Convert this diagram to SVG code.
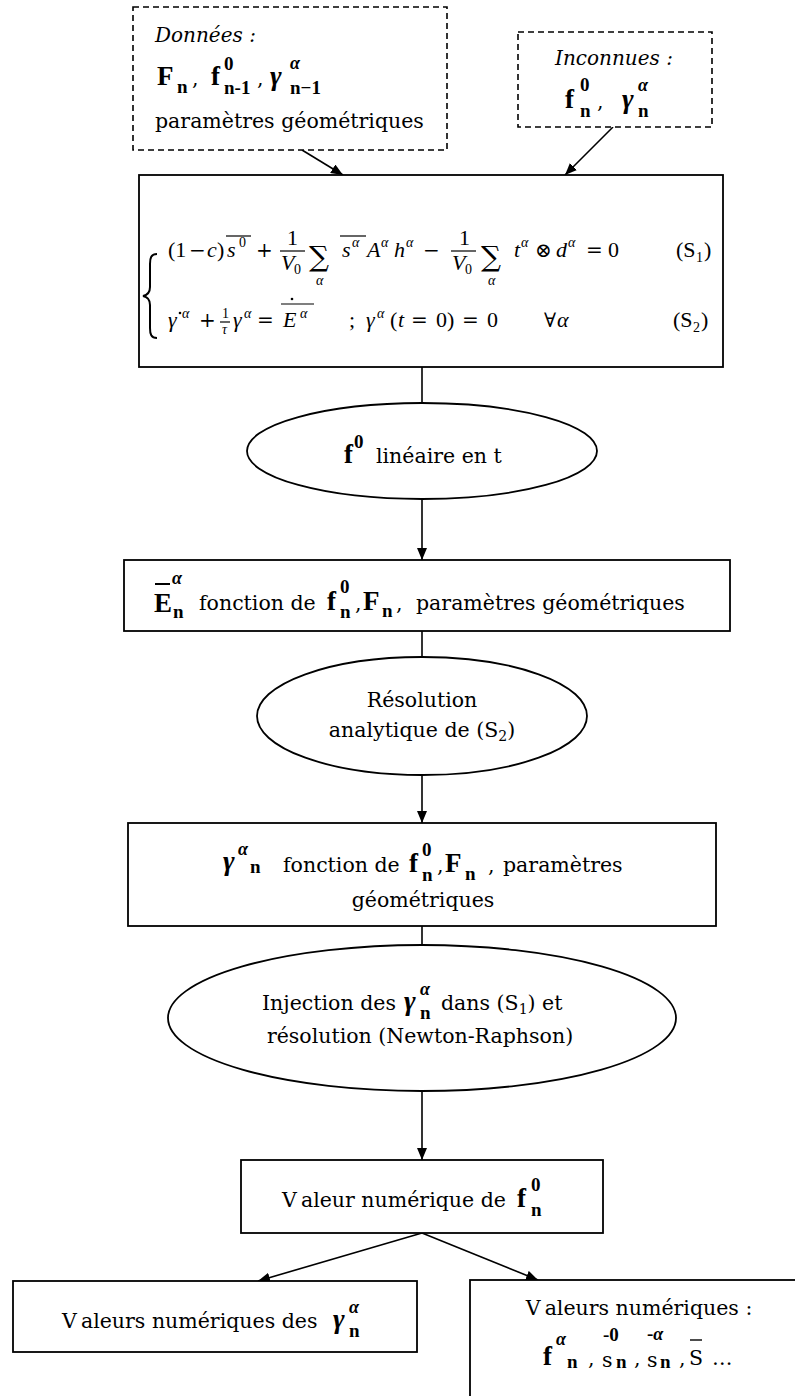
<svg xmlns="http://www.w3.org/2000/svg" width="795" height="1396" viewBox="0 0 795 1396">
<defs>
<style>
.box{fill:#fff;stroke:#000;stroke-width:1.8}
.dash{fill:#fff;stroke:#000;stroke-width:1.6;stroke-dasharray:6 4}
.con{stroke:#000;stroke-width:1.6;fill:none}
.t{font-family:"DejaVu Serif",serif;font-size:20.5px;fill:#000}
.it{font-family:"DejaVu Serif",serif;font-style:italic;font-size:20px;fill:#000}
.b{font-family:"Liberation Serif",serif;font-weight:bold;font-size:27px;fill:#000}
.bs{font-family:"Liberation Serif",serif;font-weight:bold;font-size:19px;fill:#000}
.g{font-family:"Liberation Serif",serif;font-weight:bold;font-style:italic;font-size:28px;fill:#000}
.gs{font-family:"Liberation Serif",serif;font-weight:bold;font-style:italic;font-size:18px;fill:#000}
.m{font-family:"Liberation Serif",serif;font-style:italic;font-size:22px;fill:#000}
.mu{font-family:"Liberation Serif",serif;font-size:22px;fill:#000}
.op{font-family:"DejaVu Serif",serif;font-size:20px;fill:#000}
.ms{font-family:"Liberation Serif",serif;font-style:italic;font-size:14px;fill:#000}
.mus{font-family:"Liberation Serif",serif;font-size:14px;fill:#000}
.sum{font-family:"DejaVu Serif",serif;font-size:28px;fill:#000}
.bar{stroke:#000;stroke-width:1.2}
</style>
<marker id="ah" viewBox="0 0 12 10" refX="12" refY="5" markerWidth="12" markerHeight="10" orient="auto" markerUnits="userSpaceOnUse"><path d="M0,0 L12,5 L0,10 z" fill="#000"/></marker>
</defs>
<rect width="795" height="1396" fill="#fff"/>

<g id="connectors">
<line class="con" x1="302" y1="150" x2="343" y2="175" marker-end="url(#ah)"/>
<line class="con" x1="613" y1="127" x2="565" y2="175" marker-end="url(#ah)"/>
<line class="con" x1="422" y1="367" x2="422" y2="403"/>
<line class="con" x1="422" y1="500" x2="422" y2="560" marker-end="url(#ah)"/>
<line class="con" x1="422" y1="631" x2="422" y2="657"/>
<line class="con" x1="422" y1="775" x2="422" y2="823" marker-end="url(#ah)"/>
<line class="con" x1="422" y1="926" x2="422" y2="945"/>
<line class="con" x1="422" y1="1091" x2="422" y2="1160" marker-end="url(#ah)"/>
<line class="con" x1="422" y1="1233" x2="258" y2="1281" marker-end="url(#ah)"/>
<line class="con" x1="422" y1="1233" x2="538" y2="1280" marker-end="url(#ah)"/>
</g>

<g id="donnees">
<rect class="dash" x="133" y="7" width="314" height="143"/>
<text class="it" x="155" y="42">Données :</text>
<text class="b" x="157" y="85">F</text>
<text class="bs" x="177" y="93">n</text>
<text class="t" x="192" y="85">,</text>
<text class="b" x="211" y="85">f</text>
<text class="bs" x="224" y="70">0</text>
<text class="bs" x="224" y="94">n-1</text>
<text class="t" x="257" y="85">,</text>
<text class="g" x="270" y="85">γ</text>
<text class="gs" x="290" y="69">α</text>
<text class="bs" x="290" y="94">n−1</text>
<text class="t" x="155" y="128">paramètres géométriques</text>
</g>

<g id="inconnues">
<rect class="dash" x="518" y="32" width="194" height="95"/>
<text class="it" x="614" y="65" text-anchor="middle">Inconnues :</text>
<text class="b" x="565" y="108">f</text>
<text class="bs" x="580" y="91">0</text>
<text class="bs" x="580" y="117">n</text>
<text class="t" x="597" y="108">,</text>
<text class="g" x="622" y="108">γ</text>
<text class="gs" x="638" y="91">α</text>
<text class="bs" x="638" y="117">n</text>
</g>

<g id="systeme">
<rect class="box" x="139" y="175" width="584" height="192"/>
<path d="M157 254 C151 254 150 258 150 264 L150 287 C150 292 148 295 143 296 C148 297 150 300 150 305 L150 328 C150 334 151 338 157 338" stroke="#000" stroke-width="2" fill="none"/>
<text class="mu" x="168" y="257">(1</text>
<text class="op" x="189" y="257">−</text>
<text class="m" x="207" y="257">c</text>
<text class="mu" x="217" y="257">)</text>
<text class="m" x="227" y="257">s</text>
<line class="bar" x1="226" y1="236" x2="251" y2="236"/>
<text class="mus" x="239" y="247">0</text>
<text class="op" x="256" y="257">+</text>
<text class="mu" x="287" y="245" font-size="18">1</text>
<line class="bar" x1="280" y1="251" x2="305" y2="251"/>
<text class="m" x="281" y="270" font-size="20">V</text>
<text class="mus" x="294" y="274" font-size="13">0</text>
<text class="sum" x="309" y="266">∑</text>
<text class="ms" x="316" y="285">α</text>
<text class="m" x="342" y="257">s</text>
<line class="bar" x1="340" y1="236" x2="366" y2="236"/>
<text class="ms" x="352" y="247">α</text>
<text class="m" x="367" y="257">A</text>
<text class="ms" x="381" y="247">α</text>
<text class="m" x="394" y="257">h</text>
<text class="ms" x="406" y="247">α</text>
<text class="op" x="423" y="257">−</text>
<text class="mu" x="459" y="245" font-size="18">1</text>
<line class="bar" x1="451" y1="251" x2="476" y2="251"/>
<text class="m" x="452" y="270" font-size="20">V</text>
<text class="mus" x="465" y="274" font-size="13">0</text>
<text class="sum" x="481" y="266">∑</text>
<text class="ms" x="488" y="285">α</text>
<text class="m" x="514" y="257">t</text>
<text class="ms" x="521" y="247">α</text>
<text class="op" x="535" y="257" font-size="18">⊗</text>
<text class="m" x="556" y="257">d</text>
<text class="ms" x="568" y="247">α</text>
<text class="op" x="586" y="257">=</text>
<text class="mu" x="608" y="257">0</text>
<text class="mu" x="676" y="257">(S</text>
<text class="mus" x="696" y="262" font-size="15">1</text>
<text class="mu" x="704" y="257">)</text>

<text class="m" x="168" y="327">γ</text>
<circle cx="180" cy="313" r="1.3" fill="#000"/>
<text class="ms" x="182" y="318">α</text>
<text class="op" x="199" y="327">+</text>
<text class="mus" x="222" y="318" font-size="10">1</text>
<line class="bar" x1="220" y1="322" x2="230" y2="322" stroke-width="0.8"/>
<text class="ms" x="222" y="334" font-size="10">τ</text>
<text class="m" x="233" y="327">γ</text>
<text class="ms" x="244" y="318">α</text>
<text class="op" x="257" y="327">=</text>
<text class="m" x="283" y="327">E</text>
<circle cx="292" cy="299" r="1.3" fill="#000"/>
<line class="bar" x1="281" y1="304" x2="314" y2="304"/>
<text class="ms" x="300" y="318">α</text>
<text class="mu" x="349" y="327">;</text>
<text class="m" x="366" y="327">γ</text>
<text class="ms" x="377" y="318">α</text>
<text class="mu" x="390" y="327">(</text>
<text class="m" x="398" y="327">t</text>
<text class="op" x="411" y="327">=</text>
<text class="mu" x="436" y="327">0)</text>
<text class="op" x="462" y="327">=</text>
<text class="mu" x="487" y="327">0</text>
<text class="op" x="544" y="327" font-size="18">∀</text>
<text class="m" x="557" y="327">α</text>
<text class="mu" x="673" y="327">(S</text>
<text class="mus" x="693" y="332" font-size="15">2</text>
<text class="mu" x="701" y="327">)</text>
</g>

<g id="f0-lineaire">
<ellipse class="box" cx="422" cy="451" rx="175" ry="48"/>
<text class="b" x="344" y="463" font-size="28">f</text>
<text class="bs" x="354" y="448" font-size="20">0</text>
<text class="t" x="376" y="463" font-size="19">linéaire en t</text>
</g>

<g id="E-fonction">
<rect class="box" x="124" y="560" width="606" height="71"/>
<text class="b" x="154" y="612">E</text>
<line x1="155" y1="584" x2="170" y2="584" stroke="#000" stroke-width="2"/>
<text class="gs" x="172" y="584">α</text>
<text class="bs" x="173" y="618">n</text>
<text class="t" x="199" y="610">fonction de</text>
<text class="b" x="327" y="610">f</text>
<text class="bs" x="340" y="593">0</text>
<text class="bs" x="340" y="618">n</text>
<text class="t" x="355" y="610">,</text>
<text class="b" x="363" y="610">F</text>
<text class="bs" x="382" y="617">n</text>
<text class="t" x="396" y="610">,</text>
<text class="t" x="416" y="610">paramètres géométriques</text>
</g>

<g id="resolution-S2">
<ellipse class="box" cx="422" cy="716" rx="165" ry="59"/>
<text class="t" x="422" y="707" text-anchor="middle">Résolution</text>
<text class="t" x="422" y="737" text-anchor="middle">analytique de (S<tspan font-size="14" dy="4">2</tspan><tspan dy="-4">)</tspan></text>
</g>

<g id="gamma-fonction">
<rect class="box" x="128" y="823" width="588" height="103"/>
<text class="g" x="223" y="870">γ</text>
<text class="gs" x="238" y="855">α</text>
<text class="bs" x="250" y="873" font-size="21">n</text>
<text class="t" x="283" y="872">fonction de</text>
<text class="b" x="409" y="872">f</text>
<text class="bs" x="422" y="856">0</text>
<text class="bs" x="422" y="881">n</text>
<text class="t" x="437" y="872">,</text>
<text class="b" x="445" y="872">F</text>
<text class="bs" x="465" y="880">n</text>
<text class="t" x="488" y="872">,</text>
<text class="t" x="503" y="872">paramètres</text>
<text class="t" x="423" y="907" text-anchor="middle">géométriques</text>
</g>

<g id="injection">
<ellipse class="box" cx="422" cy="1018" rx="254" ry="73"/>
<text class="t" x="262" y="1010" font-size="19.5">Injection des</text>
<text class="g" x="404" y="1010">γ</text>
<text class="gs" x="420" y="995">α</text>
<text class="bs" x="420" y="1019">n</text>
<text class="t" x="441" y="1010" font-size="19.5">dans (S<tspan font-size="14" dy="4">1</tspan><tspan dy="-4">) et</tspan></text>
<text class="t" x="420" y="1043" text-anchor="middle">résolution (Newton-Raphson)</text>
</g>

<g id="valeur-f0">
<rect class="box" x="241" y="1160" width="362" height="73"/>
<text class="t" x="282" y="1207">V<tspan dx="6">aleur numérique de</tspan></text>
<text class="b" x="517" y="1207">f</text>
<text class="bs" x="531" y="1191">0</text>
<text class="bs" x="531" y="1216">n</text>
</g>

<g id="valeurs-gamma">
<rect class="box" x="13" y="1281" width="404" height="71"/>
<text class="t" x="62" y="1328">V<tspan dx="6">aleurs numériques des</tspan></text>
<text class="g" x="333" y="1328">γ</text>
<text class="gs" x="349" y="1313">α</text>
<text class="bs" x="349" y="1337">n</text>
</g>

<g id="valeurs-autres">
<rect class="box" x="470" y="1280" width="340" height="130"/>
<text class="t" x="639" y="1315" text-anchor="middle">V<tspan dx="6">aleurs numériques :</tspan></text>
<text class="b" x="543" y="1365">f</text>
<text class="gs" x="556" y="1345">α</text>
<text class="bs" x="567" y="1368" font-size="21">n</text>
<text class="t" x="588" y="1365">,</text>
<text class="t" x="602" y="1367" font-size="19">s</text>
<text class="bs" x="603" y="1341" font-size="17">-0</text>
<text class="bs" x="616" y="1368" font-size="21">n</text>
<text class="t" x="634" y="1365">,</text>
<text class="t" x="647" y="1367" font-size="19">s</text>
<text class="bs" x="647" y="1340" font-size="17">-<tspan class="gs" font-size="16">α</tspan></text>
<text class="bs" x="660" y="1368" font-size="21">n</text>
<text class="t" x="679" y="1365">,</text>
<text class="t" x="689" y="1365">S</text>
<line x1="690" y1="1340" x2="702" y2="1340" stroke="#000" stroke-width="1.4"/>
<text class="t" x="712" y="1365">…</text>
</g>
</svg>
